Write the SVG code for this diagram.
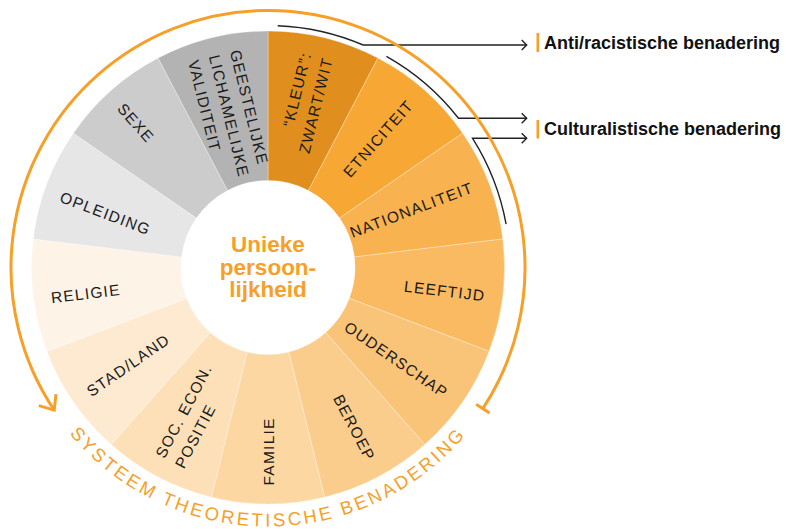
<svg xmlns="http://www.w3.org/2000/svg" width="786" height="529" viewBox="0 0 786 529">
<defs>
<style>
.seg{stroke:#fff;stroke-width:0.6;stroke-opacity:0.5}
.lbl{font-family:"Liberation Sans",Arial,sans-serif;font-size:15.5px;letter-spacing:1.25px;fill:#1a1a1a}
.e{text-anchor:end}
.s{text-anchor:start}
.conn{fill:none;stroke:#222;stroke-width:1.4}
.orng{fill:none;stroke:#F6A02A;stroke-width:3;stroke-linecap:butt}
.hdr{font-family:"Liberation Sans",Arial,sans-serif;font-size:18px;font-weight:bold;fill:#111}
.bar{fill:#F6A02A}
.ctr{font-family:"Liberation Sans",Arial,sans-serif;font-size:22.5px;font-weight:bold;fill:#F6A02A;text-anchor:middle}
.arc-t{font-family:"Liberation Sans",Arial,sans-serif;font-size:18.5px;letter-spacing:2.8px;fill:#F6A02A}
</style>
<marker id="ah" viewBox="0 0 8 12" refX="6.5" refY="6" markerWidth="8" markerHeight="12" markerUnits="userSpaceOnUse" orient="auto">
<path d="M1.5 1 L6.5 6 L1.5 11" fill="none" stroke="#222" stroke-width="1.4"/>
</marker>
<path id="bottomArc" d="M12.93 312.48 A259 259 0 0 0 523.07 312.48"/>
</defs>

<g id="wheel">
<g id="seg-kleur"><path class="seg" fill="#E08F1F" d="M268 31 A236.5 236.5 0 0 1 377.91 58.09 L308.43 190.47 A87 87 0 0 0 268 180.5 Z"/>
<text class="lbl e" transform="translate(320.17,55.83) rotate(-76.15)"><tspan x="0" y="-9">“KLEUR”:</tspan><tspan x="0" y="13">ZWART/WIT</tspan></text></g>
<g id="seg-etniciteit"><path class="seg" fill="#F7A734" d="M377.91 58.09 A236.5 236.5 0 0 1 462.63 133.15 L339.60 218.08 A87 87 0 0 0 308.43 190.47 Z"/>
<text class="lbl e" transform="translate(412.56,104.33) rotate(-48.46)" y="2.5">ETNICITEIT</text></g>
<g id="seg-nationaliteit"><path class="seg" fill="#F8B250" d="M462.63 133.15 A236.5 236.5 0 0 1 502.78 238.99 L354.37 257.01 A87 87 0 0 0 339.60 218.08 Z"/>
<text class="lbl e" transform="translate(473.70,189.49) rotate(-20.77)" y="2.5">NATIONALITEIT</text></g>
<g id="seg-leeftijd"><path class="seg" fill="#F9BA62" d="M502.78 238.99 A236.5 236.5 0 0 1 489.13 351.36 L349.35 298.35 A87 87 0 0 0 354.37 257.01 Z"/>
<text class="lbl e" transform="translate(485.41,293.9) rotate(6.92)" y="7.5">LEEFTIJD</text></g>
<g id="seg-ouderschap"><path class="seg" fill="#FAC478" d="M489.13 351.36 A236.5 236.5 0 0 1 424.83 444.52 L325.69 332.62 A87 87 0 0 0 349.35 298.35 Z"/>
<text class="lbl e" transform="translate(448.23,391.9) rotate(34.62)" y="8.5">OUDERSCHAP</text></g>
<g id="seg-beroep"><path class="seg" fill="#FBCD8D" d="M424.83 444.52 A236.5 236.5 0 0 1 324.60 497.13 L288.82 351.97 A87 87 0 0 0 325.69 332.62 Z"/>
<text class="lbl e" transform="translate(369.31,460.53) rotate(62.31)" y="3.5">BEROEP</text></g>
<g id="seg-familie"><path class="seg" fill="#FCD7A2" d="M324.60 497.13 A236.5 236.5 0 0 1 211.40 497.13 L247.18 351.97 A87 87 0 0 0 288.82 351.97 Z"/>
<text class="lbl s" transform="translate(268,485.5) rotate(-90)" y="5.5">FAMILIE</text></g>
<g id="seg-socecon"><path class="seg" fill="#FDE0B8" d="M211.40 497.13 A236.5 236.5 0 0 1 111.17 444.52 L210.31 332.62 A87 87 0 0 0 247.18 351.97 Z"/>
<text class="lbl s" transform="translate(166.69,460.53) rotate(-62.31)"><tspan x="0" y="-2.5">SOC. ECON.</tspan><tspan x="0" y="19.5">POSITIE</tspan></text></g>
<g id="seg-stadland"><path class="seg" fill="#FDEAD1" d="M111.17 444.52 A236.5 236.5 0 0 1 46.87 351.36 L186.65 298.35 A87 87 0 0 0 210.31 332.62 Z"/>
<text class="lbl s" transform="translate(87.76,391.9) rotate(-34.62)" y="6.5">STAD/LAND</text></g>
<g id="seg-religie"><path class="seg" fill="#FEF3E7" d="M46.87 351.36 A236.5 236.5 0 0 1 33.22 238.99 L181.63 257.01 A87 87 0 0 0 186.65 298.35 Z"/>
<text class="lbl s" transform="translate(50.59,293.9) rotate(-6.92)" y="9.5">RELIGIE</text></g>
<g id="seg-opleiding"><path class="seg" fill="#E6E6E6" d="M33.22 238.99 A236.5 236.5 0 0 1 73.37 133.15 L196.40 218.08 A87 87 0 0 0 181.63 257.01 Z"/>
<text class="lbl s" transform="translate(63.23,189.84) rotate(20.77)" y="12.5">OPLEIDING</text></g>
<g id="seg-sexe"><path class="seg" fill="#CCCCCC" d="M73.37 133.15 A236.5 236.5 0 0 1 158.09 58.09 L227.57 190.47 A87 87 0 0 0 196.40 218.08 Z"/>
<text class="lbl s" transform="translate(122.78,103.58) rotate(48.46)" y="8.5">SEXE</text></g>
<g id="seg-validiteit"><path class="seg" fill="#B3B3B3" d="M158.09 58.09 A236.5 236.5 0 0 1 268 31 L268 180.5 A87 87 0 0 0 227.57 190.47 Z"/>
<text class="lbl s" transform="translate(215.59,54.86) rotate(76.15)"><tspan x="0" y="-14.5">GEESTELIJKE</tspan><tspan x="0" y="7">LICHAMELIJKE</tspan><tspan x="0" y="28.5">VALIDITEIT</tspan></text></g>
</g>

<g id="center">
<circle cx="268" cy="267.5" r="86.5" fill="#fff"/>
<text class="ctr" x="268" y="252">Unieke</text>
<text class="ctr" x="268" y="274.5">persoon-</text>
<text class="ctr" x="268" y="296.5">lijkheid</text>
</g>

<g id="connectors">
<path class="conn" marker-end="url(#ah)" d="M277.7 25.7 A242 242 0 0 1 363.2 45 L526.7 45"/>
<path class="conn" marker-end="url(#ah)" d="M386.4 56.4 A242 242 0 0 1 458.5 118.3 L526.7 118.3"/>
<path class="conn" marker-end="url(#ah)" d="M506.1 224.2 A242 242 0 0 0 472.6 138.3 L526.7 138.3"/>
</g>

<g id="systeem">
<path class="orng" d="M482.8 408.6 A257 257 0 1 0 54.2 410.1"/>
<path class="orng" d="M476.1 404.2 L489.5 413.0"/>
<path class="orng" d="M38.8 405.6 L54.2 410.1 L56.0 394.2" stroke-linejoin="miter"/>
<text class="arc-t"><textPath href="#bottomArc" startOffset="50%" text-anchor="middle">SYSTEEM THEORETISCHE BENADERING</textPath></text>
</g>

<g id="label-anti">
<rect class="bar" x="536.5" y="33" width="2.6" height="19"/>
<text class="hdr" x="544" y="49">Anti/racistische benadering</text>
</g>
<g id="label-cultur">
<rect class="bar" x="536.5" y="120" width="2.6" height="18.5"/>
<text class="hdr" x="544" y="135">Culturalistische benadering</text>
</g>
</svg>
